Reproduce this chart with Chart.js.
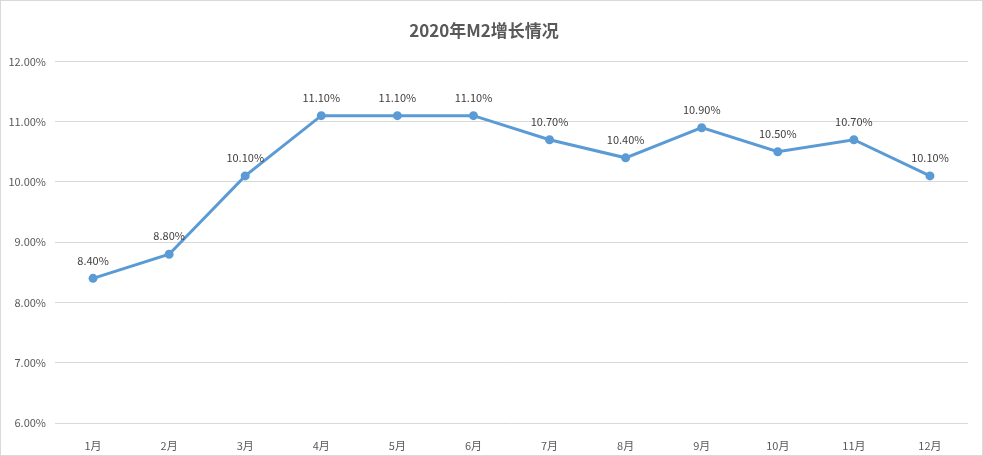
<!DOCTYPE html>
<html>
<head>
<meta charset="utf-8">
<script src="https://cdn.jsdelivr.net/npm/chart.js@4"></script>
<style>
  html, body { margin: 0; padding: 0; background: #fff; }
  #wrap { width: 983px; height: 456px; position: relative; }
</style>
</head>
<body>
<div id="wrap"><canvas id="m2Chart"></canvas></div>
<script>
const months = ['1月', '2月', '3月', '4月', '5月', '6月', '7月', '8月', '9月', '10月', '11月', '12月'];
const m2Growth = [8.4, 8.8, 10.1, 11.1, 11.1, 11.1, 10.7, 10.4, 10.9, 10.5, 10.7, 10.1];
const yTicks = [6, 7, 8, 9, 10, 11, 12];

const FONT = '"Noto Sans CJK SC", "Noto Sans", sans-serif';
const TEXT = '#595959';
const LINE = '#5b9bd5';

// valeurs au-dessus des points
const pointLabels = {
    id: 'pointLabels',
    afterDatasetsDraw(chart) {
        const ctx = chart.ctx;
        const meta = chart.getDatasetMeta(0);
        ctx.save();
        ctx.font = '11px ' + FONT;
        ctx.fillStyle = '#404040';
        ctx.textAlign = 'center';
        ctx.textBaseline = 'middle';
        meta.data.forEach((pt, i) => {
            ctx.fillText(m2Growth[i].toFixed(2) + '%', pt.x, pt.y - 18);
        });
        ctx.restore();
    }
};

// cadre gris autour du graphique
const frame = {
    id: 'frame',
    beforeDraw(chart) {
        const ctx = chart.ctx;
        ctx.save();
        ctx.strokeStyle = '#d9d9d9';
        ctx.lineWidth = 1;
        ctx.strokeRect(0.5, 0.5, chart.width - 1, chart.height - 1);
        ctx.restore();
    }
};

new Chart(document.getElementById('m2Chart'), {
    type: 'line',
    plugins: [pointLabels, frame],
    data: {
        labels: months,
        datasets: [{
            data: m2Growth,
            borderColor: LINE,
            backgroundColor: LINE,
            borderWidth: 3,
            pointRadius: 3,
            pointBackgroundColor: LINE,
            pointBorderColor: LINE,
            tension: 0
        }]
    },
    options: {
        responsive: true,
        maintainAspectRatio: false,
        animation: false,
        layout: { padding: { left: 0, right: 15, top: 0, bottom: 0 } },
        plugins: {
            legend: { display: false },
            tooltip: { enabled: false },
            title: {
                display: true,
                text: '2020年M2增长情况',
                color: TEXT,
                font: { family: FONT, size: 17, weight: 'bold' },
                padding: { top: 20, bottom: 21 }
            }
        },
        scales: {
            x: {
                offset: true,
                grid: { display: false },
                border: { display: false },
                ticks: {
                    color: TEXT,
                    font: { family: FONT, size: 11 },
                    padding: 8,
                    maxRotation: 0
                },
                afterFit(scale) { scale.height = 33; }
            },
            y: {
                min: yTicks[0],
                max: yTicks[yTicks.length - 1],
                afterBuildTicks(scale) {
                    scale.ticks = yTicks.map(v => ({ value: v }));
                },
                grid: { color: '#d9d9d9', drawTicks: false },
                border: { display: false },
                ticks: {
                    color: TEXT,
                    font: { family: FONT, size: 11 },
                    padding: 9,
                    callback: v => v.toFixed(2) + '%'
                },
                afterFit(scale) { scale.width = 55; }
            }
        }
    }
});
</script>
</body>
</html>
